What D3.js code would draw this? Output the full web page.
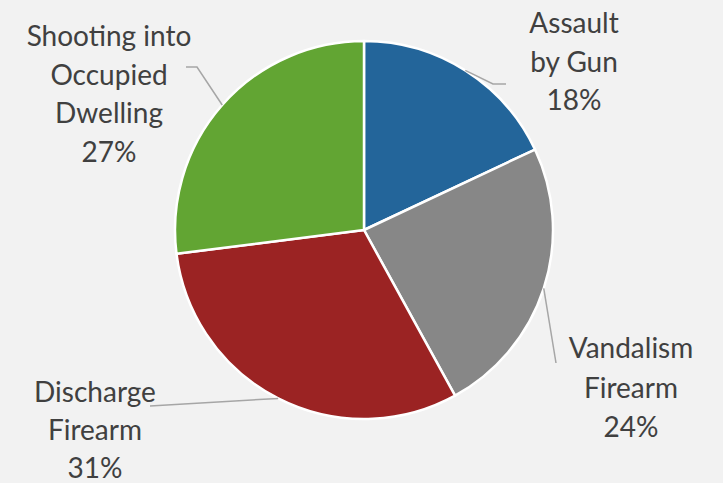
<!DOCTYPE html>
<html><head><meta charset="utf-8">
<script src="https://cdn.jsdelivr.net/npm/d3@7"></script>
<style>html,body{margin:0;padding:0;background:#f2f2f2;}svg{display:block;}</style>
</head><body><svg id="c" width="723" height="483"></svg>
<script>
const categories = ["Assault by Gun", "Vandalism Firearm", "Discharge Firearm", "Shooting into Occupied Dwelling"];
const values = [18, 24, 31, 27];
const labelLines = [["Assault", "by Gun", "18%"], ["Vandalism", "Firearm", "24%"], ["Discharge", "Firearm", "31%"], ["Shooting into", "Occupied", "Dwelling", "27%"]];
const colors = ["#23659a", "#878787", "#9b2323", "#62a533"];

const svg = d3.select("#c");
svg.append("rect").attr("width", 723).attr("height", 483).attr("fill", "#f2f2f2");
const cx = 364, cy = 230, r = 189;
const g = svg.append("g").attr("transform", `translate(${cx},${cy})`);
const pie = d3.pie().sort(null).value(d => d);
const arcs = pie(values);
const arc = d3.arc().innerRadius(0).outerRadius(r);
g.selectAll("path.s").data(arcs).join("path").attr("class", "s")
  .attr("d", arc).attr("fill", (d, i) => colors[i])
  .attr("stroke", "#ffffff").attr("stroke-width", 2.5).attr("stroke-linejoin", "round");

const edge = d3.arc().innerRadius(r).outerRadius(r);
// leader line bends and label anchors (layout, absolute px; y = first baseline)
const layout = [
  { pts: [[493, 84], [506, 84]], x: 574, y: 33, lh: 38.5 },
  { pts: [[556, 363]], x: 631, y: 358, lh: 39.5 },
  { pts: [[150, 406]], x: 95, y: 402, lh: 38 },
  { pts: [[197, 67], [186, 67]], x: 109, y: 46, lh: 38.7 }
];
arcs.forEach((d, i) => {
  const c = edge.centroid(d);
  const pts = [[cx + c[0], cy + c[1]]].concat(layout[i].pts);
  svg.append("path").attr("d", d3.line()(pts)).attr("fill", "none")
    .attr("stroke", "#a6a6a6").attr("stroke-width", 1.5);
  const t = svg.append("text").attr("text-anchor", "middle")
    .attr("font-family", "Lato, 'Open Sans', sans-serif").attr("font-size", 28).attr("fill", "#404040");
  labelLines[i].forEach((s, j) => {
    t.append("tspan").attr("x", layout[i].x).attr("y", layout[i].y + j * layout[i].lh).text(s);
  });
});
</script></body></html>
